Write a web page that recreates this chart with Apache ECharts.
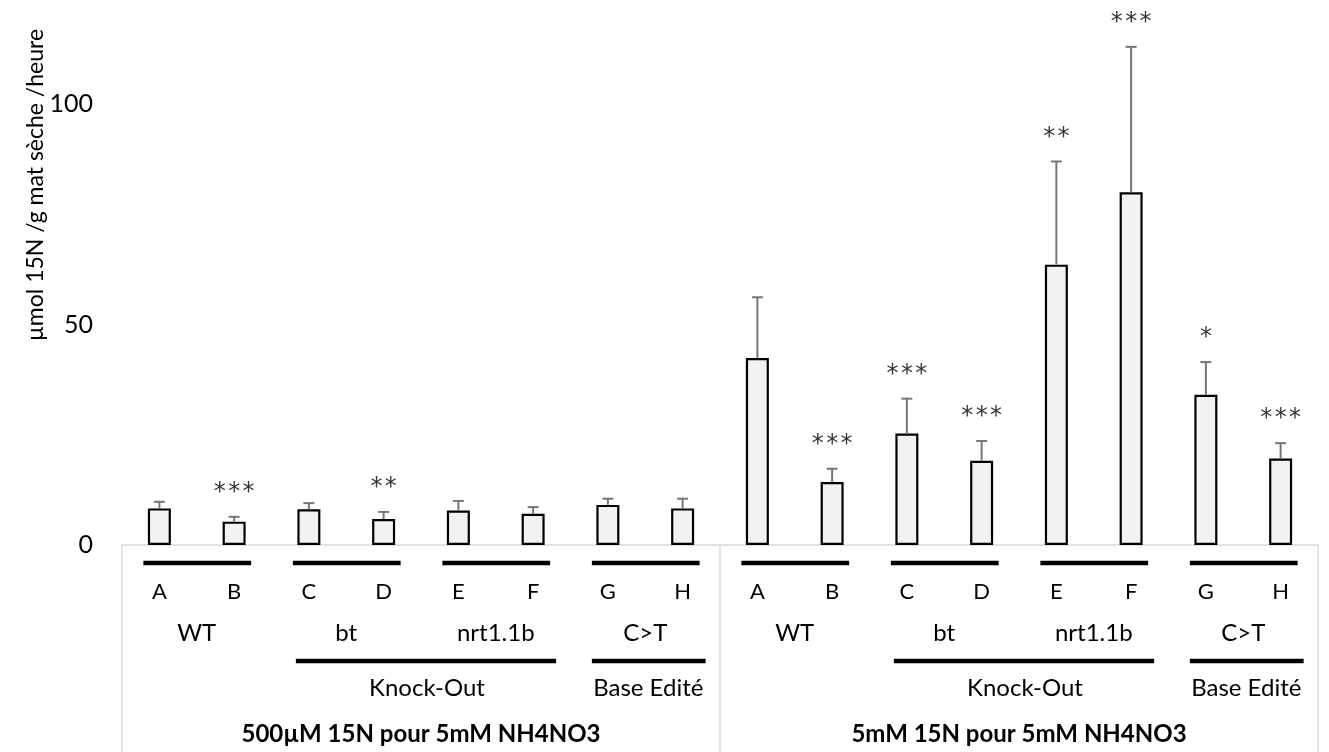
<!DOCTYPE html>
<html>
<head>
<meta charset="utf-8">
<script src="https://cdn.jsdelivr.net/npm/echarts@6/dist/echarts.min.js"></script>
<style>html,body{margin:0;padding:0;background:#fff}#c{width:1329px;height:752px}</style>
</head>
<body>
<div id="c"></div>
<script>
const letters = ['A','B','C','D','E','F','G','H'];
const categories = letters.concat(letters);
const means500 = [8.3, 5.3, 8.1, 5.9, 7.8, 7.1, 9.1, 8.3];
const err500   = [1.5, 1.1, 1.4, 1.6, 2.2, 1.5, 1.4, 2.2];
const means5   = [42.4, 14.3, 25.3, 19.1, 63.6, 80.0, 34.1, 19.6];
const err5     = [13.8, 3.0, 7.9, 4.5, 23.4, 33.0, 7.4, 3.5];
const stars500 = ['', '***', '', '**', '', '', '', ''];
const stars5   = ['', '***', '***', '***', '**', '***', '*', '***'];
const genotypes = ['WT','bt','nrt1.1b','C>T','WT','bt','nrt1.1b','C>T'];
const typeLabels = ['Knock-Out','Base Edité'];
const conditions = ['500µM 15N pour 5mM NH4NO3','5mM 15N pour 5mM NH4NO3'];
const yTicks = [0, 50, 100];
const yTitle = 'µmol 15N /g mat sèche /heure';

const means = means500.concat(means5);
const errs = err500.concat(err5);
const stars = stars500.concat(stars5);
const FONT = 'Lato, "Open Sans", sans-serif';

const chart = echarts.init(document.getElementById('c'));

chart.setOption({
  animation: false,
  backgroundColor: '#ffffff',
  grid: {left: 122, right: 11, top: 16, bottom: 207},
  xAxis: [
    {type: 'category', data: categories, position: 'bottom',
     axisLine: {show: false}, axisTick: {show: false},
     axisLabel: {margin: 36, fontSize: 22, color: '#000', fontFamily: FONT, interval: 0}},
    {type: 'category', data: genotypes, position: 'bottom',
     axisLine: {show: false}, axisTick: {show: false},
     axisLabel: {margin: 76, fontSize: 24, color: '#000', fontFamily: FONT, interval: 0}},
    {type: 'category', data: conditions, position: 'bottom',
     axisLine: {show: true, lineStyle: {color: '#d9d9d9', width: 1.5}},
     axisTick: {show: true, length: 207, lineStyle: {color: '#d9d9d9', width: 1.5}},
     axisLabel: {margin: 177, fontSize: 24, fontWeight: 'bold', color: '#000', fontFamily: FONT, interval: 0}}
  ],
  yAxis: {
    type: 'value', min: 0, max: 120, interval: 50,
    axisLine: {show: false}, axisTick: {show: false}, splitLine: {show: false},
    axisLabel: {margin: 29, fontSize: 25, color: '#000', fontFamily: FONT,
      formatter: v => yTicks.indexOf(v) >= 0 ? String(v) : ''}
  },
  series: [
    {type: 'bar', xAxisIndex: 0, data: means, barWidth: 23, z: 3,
     itemStyle: {color: '#f2f2f2', borderColor: '#000', borderWidth: 2.2}},
    {type: 'custom', xAxisIndex: 0, z: 4,
     data: means.map((m, i) => [i, m, errs[i]]),
     renderItem: function (params, api) {
       const i = api.value(0), m = api.value(1), e = api.value(2);
       const p0 = api.coord([i, m]);
       const p1 = api.coord([i, m + e]);
       const cap = 5.5;
       return {type: 'group', children: [
         {type: 'line', shape: {x1: p0[0], y1: p0[1], x2: p1[0], y2: p1[1]}, style: {stroke: '#767676', lineWidth: 2}},
         {type: 'line', shape: {x1: p1[0] - cap, y1: p1[1], x2: p1[0] + cap, y2: p1[1]}, style: {stroke: '#767676', lineWidth: 2}}
       ]};
     }},
    {type: 'scatter', xAxisIndex: 0, symbolSize: 0, z: 5,
     data: means.map((m, i) => m + errs[i]),
     label: {show: true, position: 'top', distance: 12, fontSize: 24, color: '#000', fontFamily: '"DejaVu Sans", sans-serif',
       formatter: p => stars[p.dataIndex].split('').join('\u200A')}}
  ]
});

// Annotation lines and group labels, positioned through the axis scale
function cx(i) { return chart.convertToPixel({xAxisIndex: 0}, i); }
const g = [];
const lineStyle = {stroke: '#000', lineWidth: 4.5};
for (let half = 0; half < 2; half++) {
  const o = half * 8;
  for (let p = 0; p < 4; p++) {
    const a = cx(o + 2 * p), b = cx(o + 2 * p + 1);
    g.push({type: 'line', shape: {x1: a - 16, y1: 563, x2: b + 17, y2: 563}, style: lineStyle});
  }
  const c = cx(o + 2), f = cx(o + 5), gg = cx(o + 6), h = cx(o + 7);
  g.push({type: 'line', shape: {x1: c - 13, y1: 661, x2: f + 23, y2: 661}, style: lineStyle});
  g.push({type: 'line', shape: {x1: gg - 16, y1: 661, x2: h + 23, y2: 661}, style: lineStyle});
  g.push({type: 'text', x: (c + f) / 2 + 6, y: 688, style: {text: typeLabels[0], font: '24px ' + FONT, fill: '#000', textAlign: 'center', textVerticalAlign: 'middle'}});
  g.push({type: 'text', x: (gg + h) / 2 + 3, y: 688, style: {text: typeLabels[1], font: '24px ' + FONT, fill: '#000', textAlign: 'center', textVerticalAlign: 'middle'}});
}
g.push({type: 'text', x: 36, y: 185, rotation: Math.PI / 2,
  style: {text: yTitle, font: '23px ' + FONT, fill: '#000', textAlign: 'center', textVerticalAlign: 'middle'}});
chart.setOption({graphic: g});
</script>
</body>
</html>
